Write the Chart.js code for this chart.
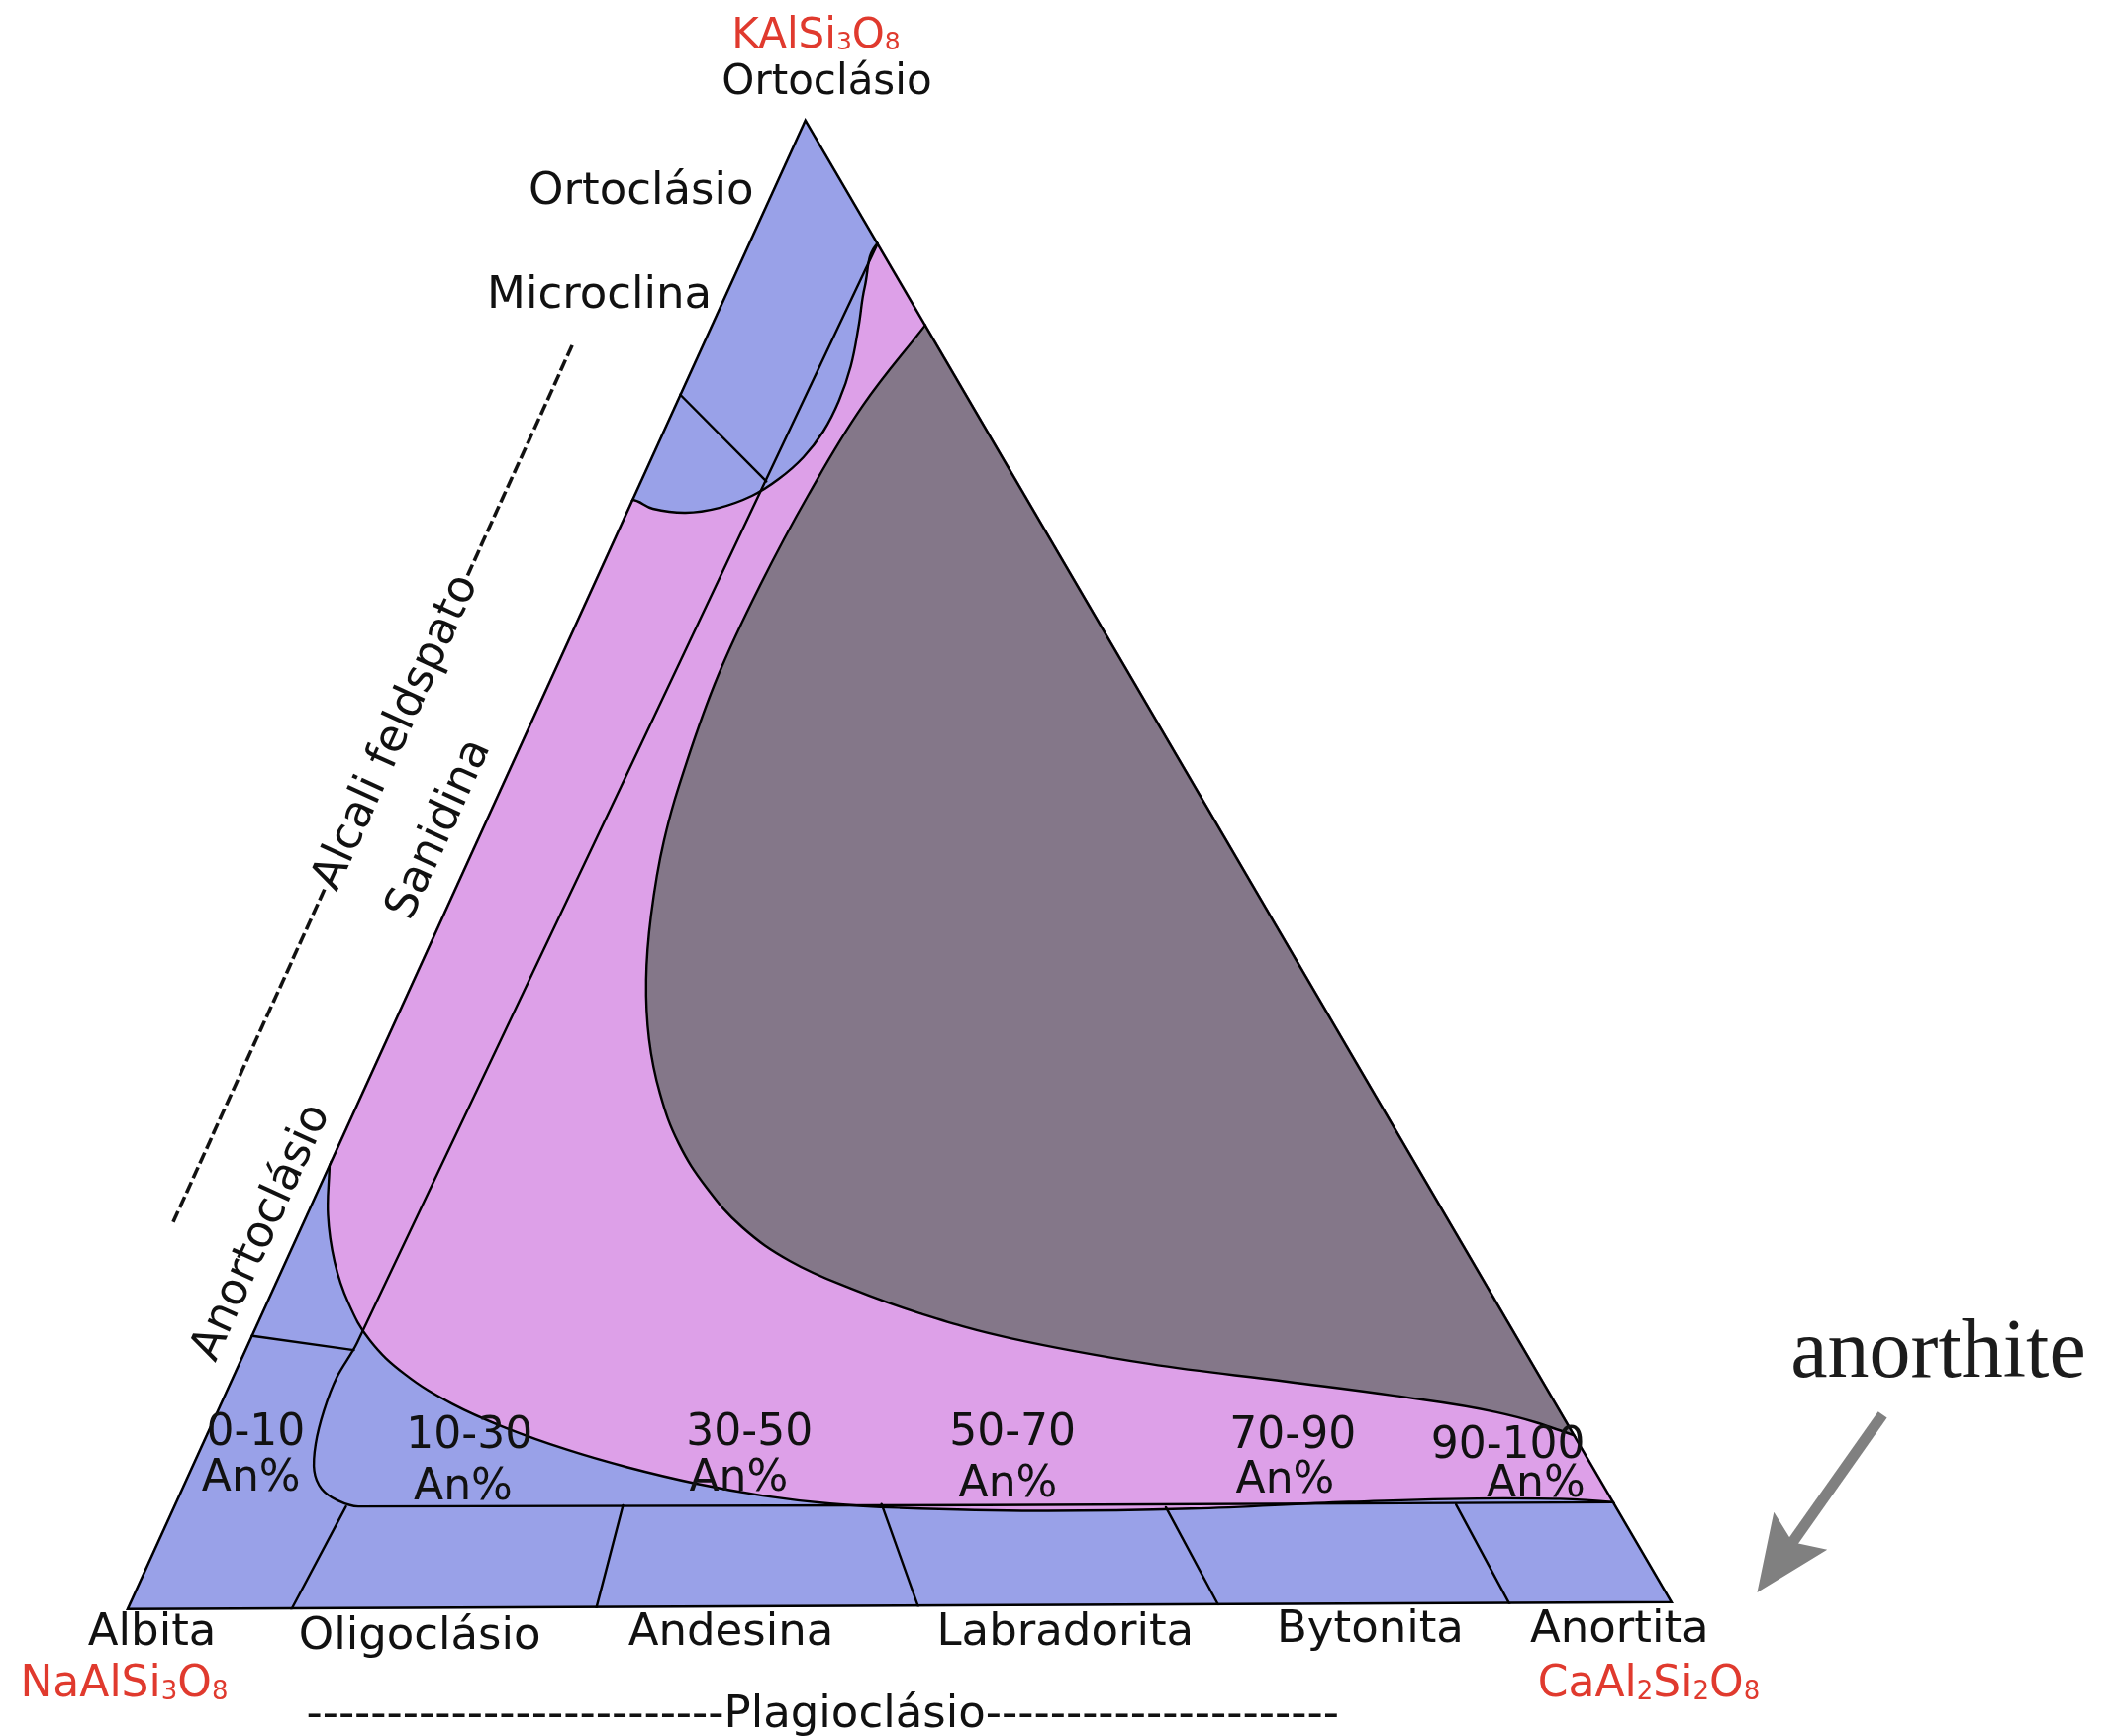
<!DOCTYPE html>
<html><head><meta charset="utf-8">
<script src="https://cdn.jsdelivr.net/npm/chart.js@4/dist/chart.umd.min.js"></script>
<style>html,body{margin:0;padding:0;background:#fff;}canvas{display:block;}</style>
</head><body>
<canvas id="c" width="2138" height="1754"></canvas>
<script>
// ---------- DATA: ternary compositions as [An%, Or%]  (Ab% = 100 - An - Or) ----------
const endmembers = [[0,0],[100,0],[0,100],[0,0]];            // Ab, An, Or (closed)
// boundary of the K-feldspar field (Ortoclásio / Microclina), left edge -> right edge
const kfsCurve = [[0,74.4],[1.66,73.8],[3.89,73.52],[5.92,73.84],[7.69,74.63],[8.93,75.75],[9.89,77.21],[10.41,78.93],[10.52,80.99],[10.27,83.31],[9.61,85.96],[8.84,88.62],[8.4,91.6]];
// lower boundary of the ternary feldspar field (pink), right edge -> left edge
const pinkLower = [[93.2,6.8],[86,7.1],[76,6.9],[66,6.5],[56,6.4],[47,6.65],[42.46,6.95],[37.85,7.51],[33.12,8.35],[28.28,9.45],[23.83,10.65],[19.26,12.12],[15.05,13.76],[11.11,15.77],[7.85,18.05],[5.34,20.59],[3.27,23.31],[1.44,26.49],[0,30.0]];
// miscibility gap (grey), right edge top -> right edge bottom
const greyCurve = [[13.9,86.1],[12.21,80.65],[11.32,74.68],[10.86,68.58],[10.8,62.61],[11.32,56.78],[12.17,51.47],[13.53,46.49],[15.11,42.17],[17.05,38.18],[19.36,34.53],[22.03,31.19],[25.15,28.2],[28.62,25.53],[32.69,23.26],[37.47,21.38],[42.69,19.69],[49.25,18.0],[58.98,16.24],[68.48,15.0],[75.68,14.04],[82.9,12.88],[88.56,11.32]];
// sanidine / albite limit, curving into the plagioclase upper limit
const sanidineLine = [[8.4,91.6],[7.1,17.9],[6.8,15.6],[6.95,13.35],[7.4,11.1],[8.1,9.3],[9.1,8.1],[10.5,7.3],[12,6.9],[93.2,6.8]];
const orthoMicroLine = [[0,81.5],[8.2,75.6]];
const anorthoclaseLine = [[0,18.4],[7.1,17.4]];
const plagDividers = [
  [[11.2,6.9],[10.7,0]],
  [[29.1,6.9],[30.4,0]],
  [[45.8,6.9],[51.2,0]],
  [[64.3,6.6],[70.6,0]],
  [[83.0,6.7],[89.4,0]]
];
// points just outside the triangle used to close the filled fields (clipped away)
const pinkOutsideStart = [[-7,74]];
const pinkOutsideRight = [[12,95],[98,6]];
const pinkOutsideEnd = [[-2.2,35]];
const greyOutsideStart = [[16,93]];
const greyOutsideEnd = [[95,9]];

// ---------- TEXT ----------
const formulas = ['NaAlSi₃O₈','CaAl₂Si₂O₈','KAlSi₃O₈'];
const plagNames = ['Albita','Oligoclásio','Andesina','Labradorita','Bytonita','Anortita'];
const anRanges = ['0-10','10-30','30-50','50-70','70-90','90-100'];
const anUnit = 'An%';
const kNames = ['Ortoclásio','Ortoclásio','Microclina'];
const edgeNames = ['Sanidina','Anortoclásio'];
const groupNames = ['Alcali feldspato','Plagioclásio'];
const noteText = 'anorthite';

// ---------- LAYOUT (chart units) ----------
const APEX_X = 43.9, TILT = 0.0047;
function toXY(p){ return {x: p[0] + APEX_X/100*p[1], y: p[1] + TILT*p[0]}; }
const formulaPos = [[-0.1,-5.8],[98.4,-5.8],[44.6,104.7]];
const formulaSize = [44,44,42];
const plagPos = [[1.7,-2.3],[19.0,-2.6],[39.1,-2.3],[60.7,-2.3],[80.4,-2.1],[96.5,-2.1]];
const anRangePos = [[8.4,11.1],[22.2,10.9],[40.3,11.1],[57.3,11.1],[75.4,10.9],[89.3,10.2]];
const anUnitPos = [[8.1,8.0],[21.8,7.4],[39.6,8.0],[57.0,7.6],[74.9,7.9],[91.1,7.6]];
const kNamePos = [[45.3,101.6],[33.3,94.2],[30.6,87.3]];
const kNameSize = [42,45,45];
const edgeNamePos = [[20.3,52.3],[8.8,25.3]];
const alkaliGroupPos = [17.5,58.8], alkaliDashes = [23,16];
const plagGroupPos = [47.1,-7.8], plagDashes = [26,22];
const notePos = [117.1,15.65];
const arrowTail = [113.5,13.1], arrowTip = [105.4,1.2];

const BLUE = '#99A1E8', PINK = '#DDA0E8', GREY = '#847789', RED = '#E03A2E';
const FONT = '"DejaVu Sans", "Open Sans", sans-serif';
const SUBS = '₀₁₂₃₄₅₆₇₈₉';

function line(pts, extra){
  return Object.assign({data: pts.map(toXY), showLine:true, pointRadius:0, pointHoverRadius:0,
    borderColor:'#000', borderWidth:2.4, fill:false, tension:0, borderJoinStyle:'round', borderCapStyle:'round'}, extra);
}

const triClip = {
  id:'triClip',
  beforeDatasetsDraw(chart){
    const {ctx, scales:{x,y}} = chart;
    ctx.save();
    ctx.beginPath();
    endmembers.slice(0,3).forEach((v,i)=>{
      const p = toXY(v); const px = x.getPixelForValue(p.x), py = y.getPixelForValue(p.y);
      if(i) ctx.lineTo(px,py); else ctx.moveTo(px,py);
    });
    ctx.closePath();
    ctx.clip();
  },
  afterDatasetsDraw(chart){ chart.ctx.restore(); }
};

const labels = {
  id:'labels',
  afterDraw(chart){
    const {ctx, scales:{x,y}} = chart;
    const P = (q)=>[x.getPixelForValue(q[0]), y.getPixelForValue(q[1])];
    function text(s, q, size, color, base, fam){
      const [px,py] = P(q);
      ctx.save();
      ctx.font = size+'px '+(fam||FONT);
      ctx.fillStyle = color||'#111';
      ctx.textAlign = 'center';
      ctx.textBaseline = base||'alphabetic';
      ctx.fillText(s, px, py);
      ctx.restore();
    }
    // chemical formula: subscript digits drawn smaller on the baseline
    function formula(s, q, size, color){
      const [px,py] = P(q);
      const parts = [];
      for(const ch of s){
        const k = SUBS.indexOf(ch);
        const sub = k >= 0;
        const c = sub ? String(k) : ch;
        const last = parts[parts.length-1];
        if(last && last.sub === sub) last.t += c; else parts.push({t:c, sub});
      }
      ctx.save();
      ctx.fillStyle = color; ctx.textBaseline='alphabetic'; ctx.textAlign='left';
      let w = 0;
      parts.forEach(p=>{ ctx.font = (p.sub ? Math.round(size*0.6) : size)+'px '+FONT; p.w = ctx.measureText(p.t).width; w += p.w; });
      let cx = px - w/2;
      parts.forEach(p=>{ ctx.font = (p.sub ? Math.round(size*0.6) : size)+'px '+FONT; ctx.fillText(p.t, cx, py + (p.sub ? size*0.05 : 0)); cx += p.w; });
      ctx.restore();
    }
    const a0 = toXY(endmembers[0]), a1 = toXY(endmembers[2]);
    const ang = Math.atan2(y.getPixelForValue(a1.y)-y.getPixelForValue(a0.y), x.getPixelForValue(a1.x)-x.getPixelForValue(a0.x));
    function rtext(s, q, size, dashes){
      const [px,py] = P(q);
      ctx.save();
      ctx.translate(px,py); ctx.rotate(ang);
      ctx.font = size+'px '+FONT; ctx.fillStyle='#111'; ctx.textBaseline='middle';
      ctx.textAlign='center'; ctx.fillText(s,0,0);
      if(dashes){
        const w = ctx.measureText(s).width;
        ctx.textAlign='right'; ctx.fillText('-'.repeat(dashes[0]), -w/2, 0);
        ctx.textAlign='left'; ctx.fillText('-'.repeat(dashes[1]), w/2, 0);
      }
      ctx.restore();
    }
    formulas.forEach((s,i)=>formula(s, formulaPos[i], formulaSize[i], RED));
    plagNames.forEach((s,i)=>text(s, plagPos[i], 45));
    anRanges.forEach((s,i)=>text(s, anRangePos[i], 44));
    anRanges.forEach((s,i)=>text(anUnit, anUnitPos[i], 44));
    kNames.forEach((s,i)=>text(s, kNamePos[i], kNameSize[i]));
    edgeNames.forEach((s,i)=>rtext(s, edgeNamePos[i], 45));
    rtext(groupNames[0], alkaliGroupPos, 45, alkaliDashes);
    {
      const [px,py] = P(plagGroupPos);
      ctx.save(); ctx.font='45px '+FONT; ctx.fillStyle='#111'; ctx.textBaseline='alphabetic';
      const w = ctx.measureText(groupNames[1]).width;
      ctx.textAlign='center'; ctx.fillText(groupNames[1], px, py);
      ctx.textAlign='right'; ctx.fillText('-'.repeat(plagDashes[0]), px-w/2, py);
      ctx.textAlign='left'; ctx.fillText('-'.repeat(plagDashes[1]), px+w/2, py);
      ctx.restore();
    }
    text(noteText, notePos, 84, '#1c1c1c', 'alphabetic', '"Liberation Serif", "DejaVu Serif", serif');
    // arrow
    const [tx,ty] = P(arrowTail), [hx,hy] = P(arrowTip);
    const dx = hx-tx, dy = hy-ty, L = Math.hypot(dx,dy), ux = dx/L, uy = dy/L;
    const headL = 76, headW = 33, notch = 14;
    const bx = hx-ux*headL, by = hy-uy*headL;
    ctx.save();
    ctx.strokeStyle='#808080'; ctx.fillStyle='#808080'; ctx.lineWidth=11; ctx.lineCap='butt';
    ctx.beginPath(); ctx.moveTo(tx,ty); ctx.lineTo(bx+ux*(notch+4),by+uy*(notch+4)); ctx.stroke();
    ctx.beginPath(); ctx.moveTo(hx,hy); ctx.lineTo(bx-uy*headW,by+ux*headW); ctx.lineTo(bx+ux*notch,by+uy*notch); ctx.lineTo(bx+uy*headW,by-ux*headW); ctx.closePath(); ctx.fill();
    ctx.restore();
  }
};

const datasets = [
  line(endmembers, {order:0, borderWidth:5, borderJoinStyle:'miter'}),
  line(sanidineLine, {order:1, tension:0.35}),
  line(orthoMicroLine, {order:1}),
  line(anorthoclaseLine, {order:1}),
  ...plagDividers.map(d=>line(d, {order:1})),
  line([...greyOutsideStart, ...greyCurve, ...greyOutsideEnd], {order:8, fill:'shape', backgroundColor:GREY, tension:0.4}),
  line([...pinkOutsideStart, ...kfsCurve, ...pinkOutsideRight, ...pinkLower, ...pinkOutsideEnd], {order:9, fill:'shape', backgroundColor:PINK, tension:0.4}),
  line(endmembers, {order:10, fill:'shape', backgroundColor:BLUE, borderWidth:0})
];

new Chart(document.getElementById('c'), {
  type:'scatter',
  data:{datasets},
  options:{
    responsive:false, animation:false, devicePixelRatio:1, events:[],
    layout:{padding:{left:127,right:447,top:119,bottom:127}},
    scales:{
      x:{type:'linear',min:0,max:100,display:false},
      y:{type:'linear',min:0,max:100,display:false}
    },
    plugins:{legend:{display:false}, tooltip:{enabled:false}}
  },
  plugins:[triClip, labels]
});
</script>
</body></html>
